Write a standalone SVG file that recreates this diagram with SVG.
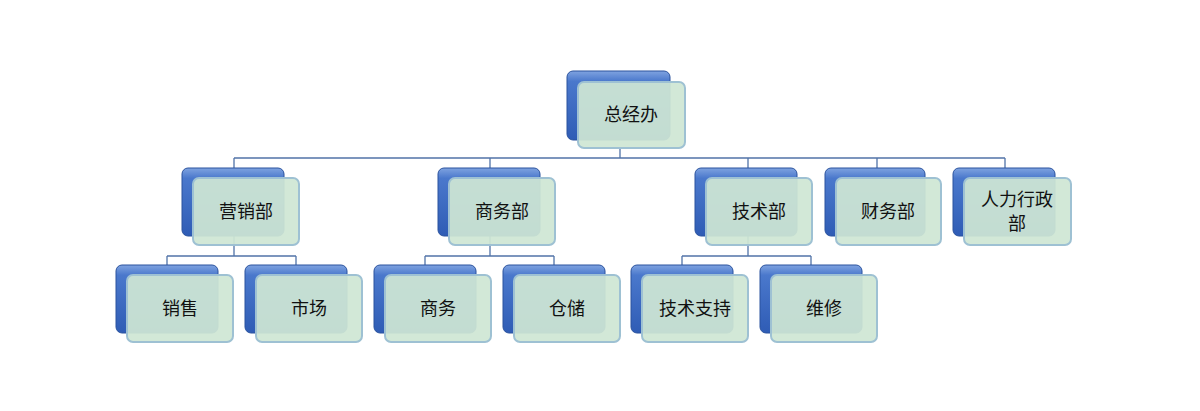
<svg xmlns="http://www.w3.org/2000/svg" width="1200" height="411" viewBox="0 0 1200 411">
<defs>
<linearGradient id="bg" x1="0" y1="0" x2="0" y2="1">
<stop offset="0" stop-color="#7fa3e0"/><stop offset="0.15" stop-color="#4a78cc"/><stop offset="1" stop-color="#2f5cb5"/>
</linearGradient>
</defs>
<style>
.b{fill:url(#bg);stroke:#2b539e;stroke-width:1}
.f{fill:#cfe6d4;fill-opacity:0.93;stroke:#9ec1d3;stroke-width:2}
.t{font-family:"Noto Sans CJK SC",sans-serif;font-size:18px;fill:#111;text-anchor:middle}
.c{fill:none;stroke:#5173a8;stroke-width:1.3}
</style>
<rect width="1200" height="411" fill="#fff"/>
<g id="connectors">
<path class="c" d="M620 148V158M234 158H1005M234 158V168M490 158V168M748 158V168M877 158V168M1005 158V168"/>
<path class="c" d="M234 236V256M167 256H296M167 256V265M296 256V265"/>
<path class="c" d="M490 236V256M425 256H554M425 256V265M554 256V265"/>
<path class="c" d="M748 236V256M682 256H811M682 256V265M811 256V265"/>
</g>
<g id="n0"><rect class="b" x="567" y="71" width="103" height="69" rx="6"/><rect class="f" x="578" y="82" width="107" height="66" rx="6"/><text class="t" x="631" y="121">总经办</text></g>
<g id="n1"><rect class="b" x="182" y="168" width="102" height="68" rx="6"/><rect class="f" x="193" y="178" width="106" height="67" rx="6"/><text class="t" x="246" y="218">营销部</text></g>
<g id="n2"><rect class="b" x="438" y="168" width="102" height="68" rx="6"/><rect class="f" x="449" y="178" width="106" height="67" rx="6"/><text class="t" x="502" y="218">商务部</text></g>
<g id="n3"><rect class="b" x="695" y="168" width="102" height="68" rx="6"/><rect class="f" x="706" y="178" width="106" height="67" rx="6"/><text class="t" x="759" y="218">技术部</text></g>
<g id="n4"><rect class="b" x="825" y="168" width="100" height="68" rx="6"/><rect class="f" x="836" y="178" width="105" height="67" rx="6"/><text class="t" x="888" y="218">财务部</text></g>
<g id="n5"><rect class="b" x="953" y="168" width="102" height="68" rx="6"/><rect class="f" x="964" y="178" width="107" height="67" rx="6"/><text class="t" x="1017" y="206">人力行政</text><text class="t" x="1017" y="230">部</text></g>
<g id="n6"><rect class="b" x="116" y="265" width="102" height="68" rx="6"/><rect class="f" x="127" y="275" width="106" height="67" rx="6"/><text class="t" x="180" y="315">销售</text></g>
<g id="n7"><rect class="b" x="245" y="265" width="102" height="68" rx="6"/><rect class="f" x="256" y="275" width="106" height="67" rx="6"/><text class="t" x="309" y="315">市场</text></g>
<g id="n8"><rect class="b" x="374" y="265" width="102" height="68" rx="6"/><rect class="f" x="385" y="275" width="106" height="67" rx="6"/><text class="t" x="438" y="315">商务</text></g>
<g id="n9"><rect class="b" x="503" y="265" width="102" height="68" rx="6"/><rect class="f" x="514" y="275" width="106" height="67" rx="6"/><text class="t" x="567" y="315">仓储</text></g>
<g id="n10"><rect class="b" x="631" y="265" width="102" height="68" rx="6"/><rect class="f" x="642" y="275" width="106" height="67" rx="6"/><text class="t" x="695" y="315">技术支持</text></g>
<g id="n11"><rect class="b" x="760" y="265" width="102" height="68" rx="6"/><rect class="f" x="771" y="275" width="106" height="67" rx="6"/><text class="t" x="824" y="315">维修</text></g>
</svg>
